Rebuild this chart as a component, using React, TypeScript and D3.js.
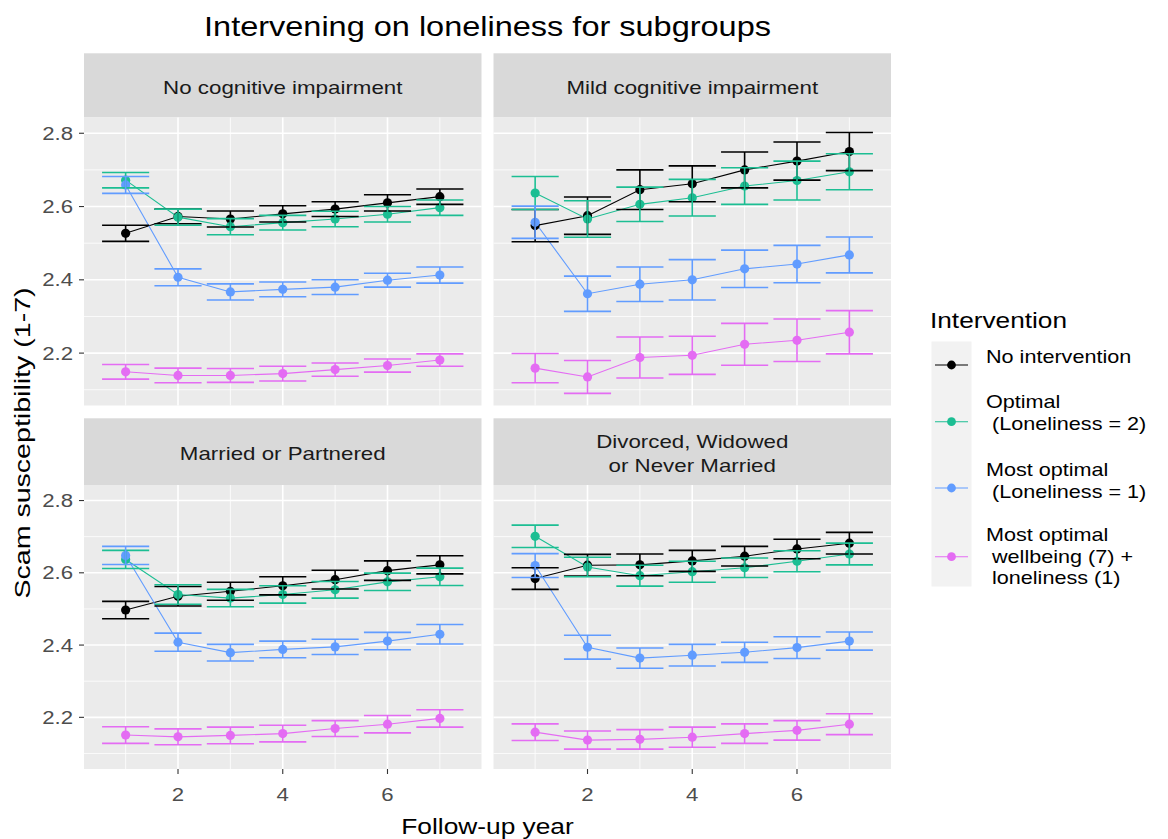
import React from "react";
import * as d3 from "d3";

// Follow-up years shared by every panel
const years = [1, 2, 3, 4, 5, 6, 7];

// Intervention groups (legend labels are split into lines)
const interventionKeys = ["none", "optimal", "mostOptimal", "wellbeing"];
const interventionLabels = [
  ["No intervention"],
  ["Optimal", " (Loneliness = 2)"],
  ["Most optimal", " (Loneliness = 1)"],
  ["Most optimal", " wellbeing (7) +", " loneliness (1)"],
];
const interventionColors = ["#000000", "#1CBE93", "#619CFF", "#E46CF3"];

// Facet titles (multi-line where the strip wraps)
const panelTitles = [
  ["No cognitive impairment"],
  ["Mild cognitive impairment"],
  ["Married or Partnered"],
  ["Divorced, Widowed", "or Never Married"],
];

// Estimated mean scam susceptibility per year, one row per intervention
const noCognitiveMeans = [
  [2.527, 2.573, 2.566, 2.58, 2.593, 2.61, 2.627],
  [2.672, 2.571, 2.545, 2.556, 2.566, 2.579, 2.597],
  [2.659, 2.407, 2.367, 2.374, 2.38, 2.399, 2.413],
  [2.149, 2.139, 2.139, 2.144, 2.155, 2.166, 2.181],
];
const noCognitiveHalfCI = [
  [0.022, 0.02, 0.022, 0.022, 0.02, 0.022, 0.021],
  [0.021, 0.022, 0.022, 0.02, 0.021, 0.021, 0.021],
  [0.023, 0.023, 0.022, 0.02, 0.02, 0.019, 0.022],
  [0.02, 0.02, 0.019, 0.02, 0.018, 0.018, 0.017],
];

const mildCognitiveMeans = [
  [2.548, 2.575, 2.646, 2.662, 2.7, 2.724, 2.75],
  [2.637, 2.566, 2.606, 2.624, 2.656, 2.671, 2.695],
  [2.557, 2.362, 2.388, 2.4, 2.43, 2.443, 2.468],
  [2.159, 2.135, 2.188, 2.194, 2.224, 2.235, 2.257],
];
const mildCognitiveHalfCI = [
  [0.044, 0.051, 0.054, 0.049, 0.049, 0.052, 0.052],
  [0.045, 0.05, 0.047, 0.05, 0.05, 0.053, 0.049],
  [0.044, 0.048, 0.047, 0.055, 0.051, 0.051, 0.049],
  [0.04, 0.045, 0.056, 0.052, 0.057, 0.058, 0.059],
];

const marriedMeans = [
  [2.497, 2.535, 2.549, 2.564, 2.581, 2.606, 2.622],
  [2.637, 2.54, 2.53, 2.54, 2.553, 2.575, 2.589],
  [2.648, 2.408, 2.379, 2.388, 2.395, 2.411, 2.43],
  [2.151, 2.146, 2.15, 2.155, 2.169, 2.181, 2.197],
];
const marriedHalfCI = [
  [0.024, 0.027, 0.025, 0.025, 0.026, 0.027, 0.025],
  [0.025, 0.027, 0.024, 0.024, 0.023, 0.024, 0.024],
  [0.025, 0.025, 0.023, 0.023, 0.021, 0.024, 0.027],
  [0.023, 0.022, 0.023, 0.023, 0.022, 0.024, 0.024],
];

const unpartneredMeans = [
  [2.584, 2.621, 2.622, 2.633, 2.646, 2.666, 2.682],
  [2.701, 2.616, 2.592, 2.603, 2.614, 2.632, 2.652],
  [2.62, 2.394, 2.364, 2.372, 2.38, 2.393, 2.411],
  [2.159, 2.137, 2.139, 2.145, 2.155, 2.164, 2.181],
];
const unpartneredHalfCI = [
  [0.03, 0.03, 0.03, 0.029, 0.027, 0.027, 0.03],
  [0.031, 0.027, 0.029, 0.029, 0.027, 0.029, 0.03],
  [0.033, 0.033, 0.028, 0.03, 0.028, 0.03, 0.025],
  [0.023, 0.025, 0.027, 0.028, 0.027, 0.027, 0.029],
];

const yTicks = [2.2, 2.4, 2.6, 2.8];
const yMinor = [2.1, 2.3, 2.5, 2.7];
const xTicks = [2, 4, 6];
const xMinor = [1, 3, 5, 7];

const panelMeans = [noCognitiveMeans, mildCognitiveMeans, marriedMeans, unpartneredMeans];
const panelHalfCI = [noCognitiveHalfCI, mildCognitiveHalfCI, marriedHalfCI, unpartneredHalfCI];

const FONT = "'Liberation Sans', Arial, sans-serif";
const W = 1168;
const H = 839;

// facet grid geometry
const colX = [
  [84, 481.5],
  [493.5, 891],
];
const rowY = [
  { strip: [53.3, 117.5], plot: [117.5, 405.5] },
  { strip: [418.3, 485], plot: [485, 769] },
];

const errWidth = 0.9;
const xDomain: [number, number] = [0.205, 7.795];
const yDomain: [number, number] = [2.057, 2.843];

// Text drawn with a slightly widened face
function SText(props: {
  x: number;
  y: number;
  children: React.ReactNode;
  size: number;
  sx?: number;
  anchor?: "start" | "middle" | "end";
  fill?: string;
  rotate?: number;
}) {
  const { x, y, children, size, sx = 1.2, anchor = "start", fill = "#000", rotate = 0 } = props;
  return (
    <text
      transform={`translate(${x},${y}) rotate(${rotate}) scale(${sx},1)`}
      dy="0.35em"
      textAnchor={anchor}
      fontSize={size}
      fill={fill}
      style={{ whiteSpace: "pre" }}
    >
      {children}
    </text>
  );
}

function Panel({ index }: { index: number }) {
  const col = index % 2;
  const row = Math.floor(index / 2);
  const [x0, x1] = colX[col];
  const { strip, plot } = rowY[row];
  const x = d3.scaleLinear().domain(xDomain).range([x0, x1]);
  const y = d3.scaleLinear().domain(yDomain).range([plot[1], plot[0]]);
  const means = panelMeans[index];
  const half = panelHalfCI[index];
  const line = d3
    .line<number>()
    .x((_, i) => x(years[i]))
    .y((d) => y(d));
  const title = panelTitles[index];
  const stripMid = (strip[0] + strip[1]) / 2 + 2;
  const lh = 24;

  return (
    <g>
      <rect x={x0} y={strip[0]} width={x1 - x0} height={strip[1] - strip[0]} fill="#D9D9D9" />
      {title.map((t, i) => (
        <SText
          key={i}
          x={(x0 + x1) / 2}
          y={stripMid + (i - (title.length - 1) / 2) * lh}
          anchor="middle"
          size={18}
          sx={1.24}
          fill="#1A1A1A"
        >
          {t}
        </SText>
      ))}
      <rect x={x0} y={plot[0]} width={x1 - x0} height={plot[1] - plot[0]} fill="#EBEBEB" />
      {yMinor.map((v) => (
        <line key={"ym" + v} x1={x0} x2={x1} y1={y(v)} y2={y(v)} stroke="#FFF" strokeWidth={0.8} />
      ))}
      {xMinor.map((v) => (
        <line key={"xm" + v} x1={x(v)} x2={x(v)} y1={plot[0]} y2={plot[1]} stroke="#FFF" strokeWidth={0.8} />
      ))}
      {yTicks.map((v) => (
        <line key={"y" + v} x1={x0} x2={x1} y1={y(v)} y2={y(v)} stroke="#FFF" strokeWidth={1.6} />
      ))}
      {xTicks.map((v) => (
        <line key={"x" + v} x1={x(v)} x2={x(v)} y1={plot[0]} y2={plot[1]} stroke="#FFF" strokeWidth={1.6} />
      ))}
      {means.map((series, s) => (
        <path key={"l" + s} d={line(series) || ""} fill="none" stroke={interventionColors[s]} strokeWidth={1.1} />
      ))}
      {means.map((series, s) => (
        <g key={"p" + s} fill={interventionColors[s]}>
          {series.map((m, i) => (
            <circle key={i} cx={x(years[i])} cy={y(m)} r={4.6} />
          ))}
        </g>
      ))}
      {means.map((series, s) => (
        <g key={"e" + s} stroke={interventionColors[s]} strokeWidth={1.6} fill="none">
          {series.map((m, i) => {
            const lo = y(m - half[s][i]);
            const hi = y(m + half[s][i]);
            const xl = x(years[i] - errWidth / 2);
            const xr = x(years[i] + errWidth / 2);
            const xc = x(years[i]);
            return <path key={i} d={`M${xl},${hi}H${xr}M${xc},${hi}V${lo}M${xl},${lo}H${xr}`} />;
          })}
        </g>
      ))}
      {col === 0 &&
        yTicks.map((v) => (
          <g key={"yt" + v}>
            <line x1={x0 - 5} x2={x0} y1={y(v)} y2={y(v)} stroke="#333" strokeWidth={1.1} />
            <SText x={x0 - 11} y={y(v)} anchor="end" size={18.5} sx={1.2} fill="#4D4D4D">
              {v.toFixed(1)}
            </SText>
          </g>
        ))}
      {row === 1 &&
        xTicks.map((v) => (
          <g key={"xt" + v}>
            <line x1={x(v)} x2={x(v)} y1={plot[1]} y2={plot[1] + 5} stroke="#333" strokeWidth={1.1} />
            <SText x={x(v)} y={plot[1] + 26} anchor="middle" size={18.5} sx={1.2} fill="#4D4D4D">
              {v}
            </SText>
          </g>
        ))}
    </g>
  );
}

function Legend() {
  const keyRows = [365, 421.7, 488, 556.7];
  const labelStarts = [356.7, 401.7, 470, 535];
  const lineH = 21.5;
  return (
    <g>
      <SText x={930} y={320} size={21.5} sx={1.22}>
        Intervention
      </SText>
      <rect x={931.5} y={341.5} width={40} height={245} fill="#F2F2F2" />
      {interventionKeys.map((k, i) => (
        <g key={k}>
          <line x1={935} x2={968} y1={keyRows[i]} y2={keyRows[i]} stroke={interventionColors[i]} strokeWidth={1.1} />
          <circle cx={951.5} cy={keyRows[i]} r={4.4} fill={interventionColors[i]} />
          {interventionLabels[i].map((t, j) => (
            <SText key={j} x={986} y={labelStarts[i] + j * lineH} size={18} sx={1.2}>
              {t}
            </SText>
          ))}
        </g>
      ))}
    </g>
  );
}

export default function App() {
  return (
    <div style={{ position: "absolute", left: 0, top: 0 }}>
      <svg width={W} height={H} style={{ display: "block", fontFamily: FONT }}>
        <rect width={W} height={H} fill="#FFFFFF" />
        <SText x={487.5} y={26} anchor="middle" size={28.5} sx={1.14}>
          Intervening on loneliness for subgroups
        </SText>
        {[0, 1, 2, 3].map((i) => (
          <Panel key={i} index={i} />
        ))}
        <SText x={22} y={443} anchor="middle" size={22.5} sx={1.27} rotate={-90}>
          Scam susceptibility (1-7)
        </SText>
        <SText x={487.5} y={826} anchor="middle" size={22.5} sx={1.17}>
          Follow-up year
        </SText>
        <Legend />
      </svg>
    </div>
  );
}
